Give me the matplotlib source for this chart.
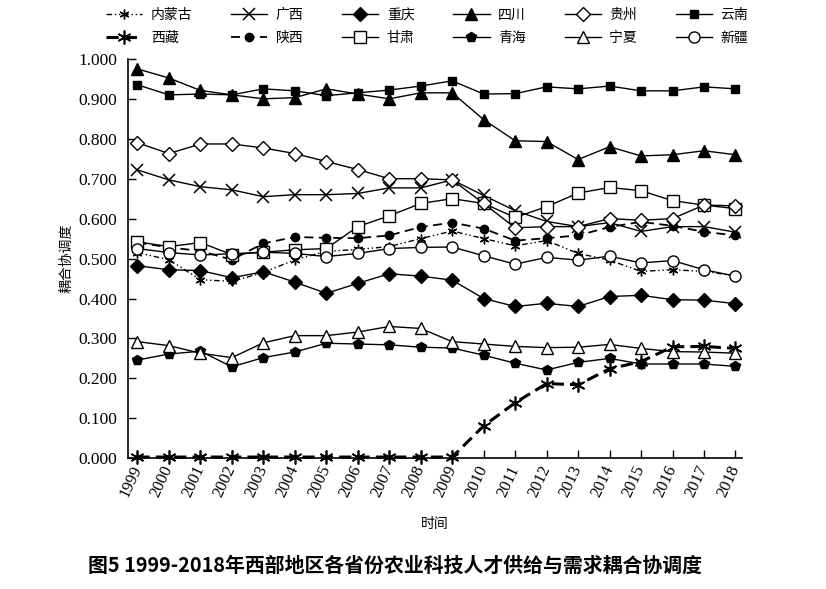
import matplotlib
matplotlib.use('Agg')
import matplotlib.pyplot as plt

plt.rcParams['font.family'] = ['Noto Sans CJK SC', 'DejaVu Sans']

years = list(range(1999, 2019))

neimenggu = [0.515, 0.497, 0.447, 0.443, 0.465, 0.497, 0.518, 0.523, 0.530, 0.550,
             0.569, 0.550, 0.532, 0.545, 0.513, 0.496, 0.468, 0.472, 0.468, 0.457]
guangxi = [0.722, 0.697, 0.680, 0.672, 0.655, 0.660, 0.660, 0.663, 0.677, 0.677,
           0.697, 0.658, 0.620, 0.593, 0.580, 0.590, 0.568, 0.580, 0.580, 0.566]
chongqing = [0.482, 0.472, 0.470, 0.452, 0.467, 0.441, 0.413, 0.438, 0.462, 0.456,
             0.446, 0.400, 0.380, 0.388, 0.380, 0.405, 0.408, 0.397, 0.396, 0.387]
sichuan = [0.975, 0.952, 0.921, 0.910, 0.900, 0.903, 0.925, 0.912, 0.900, 0.915,
           0.915, 0.848, 0.795, 0.793, 0.748, 0.780, 0.757, 0.760, 0.770, 0.760]
guizhou = [0.790, 0.763, 0.787, 0.787, 0.777, 0.763, 0.743, 0.723, 0.700, 0.700,
           0.697, 0.638, 0.577, 0.580, 0.580, 0.600, 0.596, 0.600, 0.634, 0.632]
yunnan = [0.935, 0.910, 0.912, 0.910, 0.925, 0.920, 0.908, 0.915, 0.922, 0.932,
          0.945, 0.912, 0.913, 0.930, 0.925, 0.932, 0.920, 0.920, 0.930, 0.925]
xizang = [0.003, 0.003, 0.003, 0.003, 0.003, 0.003, 0.003, 0.003, 0.003, 0.003,
          0.003, 0.081, 0.139, 0.187, 0.184, 0.224, 0.242, 0.279, 0.280, 0.275]
shaanxi = [0.540, 0.528, 0.519, 0.497, 0.538, 0.554, 0.552, 0.551, 0.558, 0.579,
           0.590, 0.575, 0.545, 0.551, 0.558, 0.579, 0.592, 0.582, 0.567, 0.558]
gansu = [0.542, 0.530, 0.540, 0.510, 0.516, 0.522, 0.525, 0.580, 0.607, 0.638,
         0.650, 0.638, 0.603, 0.630, 0.664, 0.678, 0.670, 0.645, 0.634, 0.625]
qinghai = [0.246, 0.261, 0.268, 0.229, 0.252, 0.266, 0.288, 0.286, 0.284, 0.278,
           0.276, 0.258, 0.238, 0.221, 0.240, 0.250, 0.236, 0.236, 0.236, 0.230]
ningxia = [0.292, 0.282, 0.263, 0.252, 0.289, 0.307, 0.307, 0.316, 0.330, 0.325,
           0.292, 0.286, 0.280, 0.277, 0.278, 0.285, 0.275, 0.267, 0.266, 0.263]
xinjiang = [0.525, 0.515, 0.509, 0.512, 0.516, 0.513, 0.505, 0.513, 0.525, 0.528,
            0.529, 0.507, 0.486, 0.503, 0.496, 0.506, 0.489, 0.495, 0.472, 0.456]

k = 'black'
series = [
    ('内蒙古', neimenggu, dict(ls=(0, (4, 2, 1, 2, 1, 2)), lw=1.0, marker=(6, 2, 0), ms=7, mfc=k, mew=1.0)),
    ('西藏', xizang, dict(ls=(0, (4, 2)), lw=2.2, marker=(6, 2, 0), ms=10, mfc=k, mew=1.2)),
    ('广西', guangxi, dict(ls='-', lw=1.0, marker='x', ms=8, mew=1.1)),
    ('陕西', shaanxi, dict(ls=(0, (5, 3)), lw=1.3, marker='o', ms=6, mfc=k)),
    ('重庆', chongqing, dict(ls='-', lw=1.0, marker='D', ms=7, mfc=k)),
    ('甘肃', gansu, dict(ls='-', lw=1.0, marker='s', ms=8, mfc='white', mew=1.0)),
    ('四川', sichuan, dict(ls='-', lw=1.0, marker='^', ms=8, mfc=k)),
    ('青海', qinghai, dict(ls='-', lw=1.0, marker='p', ms=7, mfc=k)),
    ('贵州', guizhou, dict(ls='-', lw=1.0, marker='D', ms=7, mfc='white', mew=1.0)),
    ('宁夏', ningxia, dict(ls='-', lw=1.0, marker='^', ms=9, mfc='white', mew=1.0)),
    ('云南', yunnan, dict(ls='-', lw=1.0, marker='s', ms=6, mfc=k)),
    ('新疆', xinjiang, dict(ls='-', lw=1.0, marker='o', ms=8, mfc='white', mew=1.0)),
]

fig = plt.figure(figsize=(8.26, 5.89), dpi=100)
ax = fig.add_axes([0.155, 0.222, 0.743, 0.678])

for name, vals, st in series:
    ax.plot(years, vals, color=k, mec=k, label=name, clip_on=False, **st)

ax.set_xlim(1998.7, 2018.2)
ax.set_ylim(0, 1.0)
ax.set_yticks([i / 10 for i in range(11)])
ax.set_yticklabels(['%.3f' % (i / 10) for i in range(11)], family='Liberation Serif', fontsize=12.5)
ax.set_xticks(years)
ax.set_xticklabels([str(y) for y in years], family='Liberation Serif', fontsize=12,
                   rotation=65, ha='right', va='center', rotation_mode='anchor')
ax.tick_params(direction='in', length=6, width=1.0)
ax.tick_params(axis='y', pad=8)
ax.tick_params(axis='x', pad=6)
for s in ['top', 'right']:
    ax.spines[s].set_visible(False)
for s in ['left', 'bottom']:
    ax.spines[s].set_linewidth(1.2)

ax.set_ylabel('耦合协调度', fontsize=10, labelpad=3)
ax.set_xlabel('时间', fontsize=10, labelpad=12)

fig.legend(loc='center', bbox_to_anchor=(0.517, 0.955), ncol=6, frameon=False,
           fontsize=10, handlelength=2.6, columnspacing=2.8, handletextpad=0.6,
           labelspacing=0.6)

fig.text(0.478, 0.04, '图5 1999-2018年西部地区各省份农业科技人才供给与需求耦合协调度',
         ha='center', va='center', fontsize=14.3, fontweight='bold')

fig.savefig('out.png', dpi=100)
